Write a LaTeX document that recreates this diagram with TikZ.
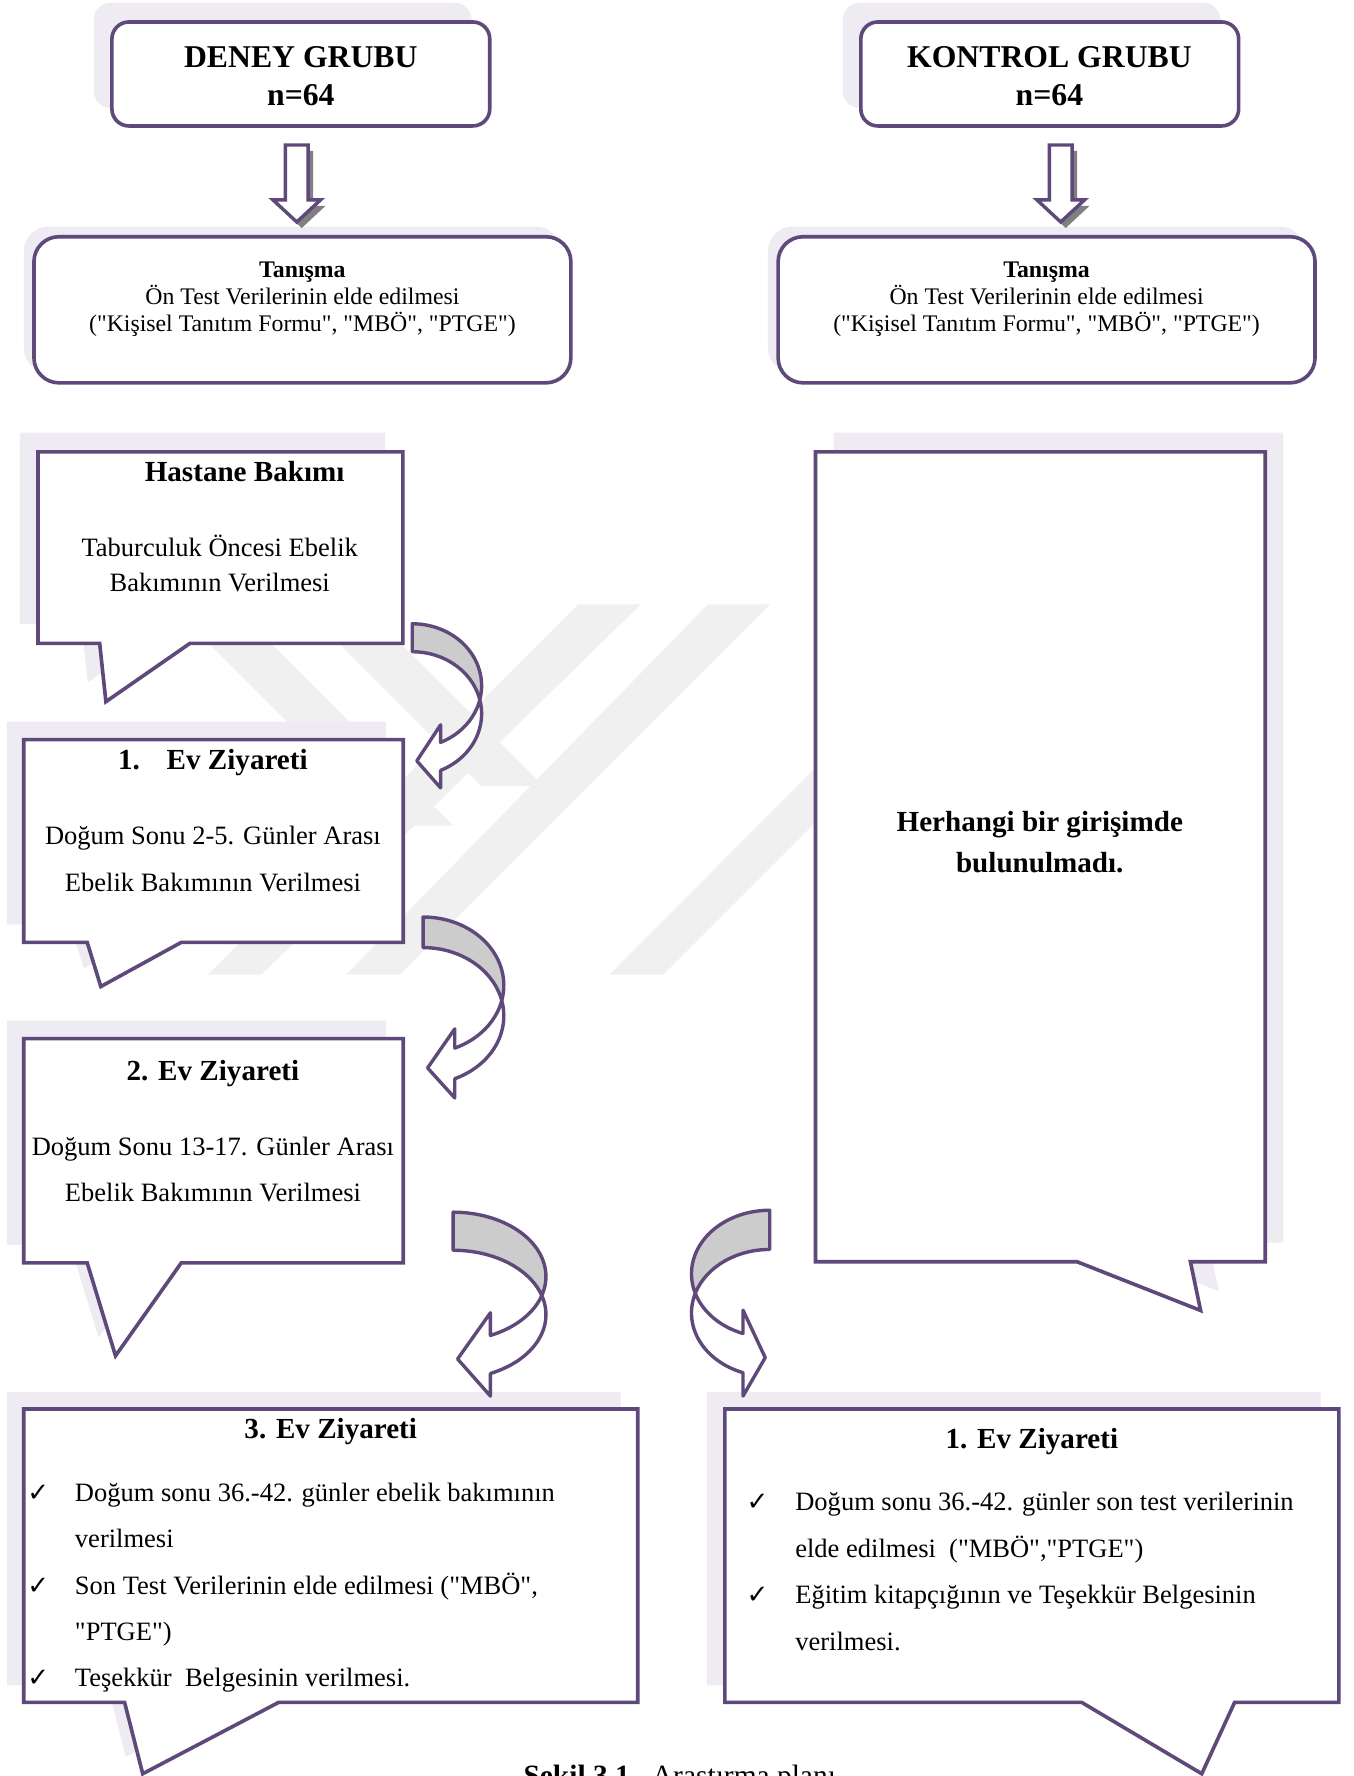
\documentclass[tikz,border=0pt]{standalone}
\usepackage{fontspec}
\setmainfont{Liberation Serif}[Ligatures=TeXOff]
\newfontfamily\symfont{DejaVu Sans}
\definecolor{pborder}{HTML}{5F497A}
\definecolor{shadowc}{HTML}{EEEBF3}
\definecolor{wmark}{HTML}{F0F0F0}
\definecolor{arrgray}{HTML}{CCCCCC}
\definecolor{dshadow}{HTML}{808080}
\tikzset{
  outline/.style={draw=pborder, line width=3.2pt, line join=miter, fill=white},
  shadebox/.style={fill=shadowc, draw=none},
  arrback/.style={draw=pborder, line width=3pt, line join=round, fill=arrgray},
  arrfront/.style={draw=pborder, line width=3pt, line join=round, fill=white},
  toptitle/.style={anchor=base, inner sep=0pt, font=\fontsize{28}{32}\selectfont\bfseries},
  smalltxt/.style={anchor=base, inner sep=0pt, font=\fontsize{21}{24}\selectfont},
  smallbold/.style={anchor=base, inner sep=0pt, font=\fontsize{21}{24}\selectfont\bfseries},
  ctitle/.style={anchor=base, inner sep=0pt, font=\fontsize{25.7}{30}\selectfont\bfseries},
  body/.style={anchor=base, inner sep=0pt, font=\fontsize{23.4}{28}\selectfont},
  bodyw/.style={anchor=base west, inner sep=0pt, font=\fontsize{23.4}{28}\selectfont},
  checkm/.style={anchor=base west, inner sep=0pt, font=\fontsize{23}{26}\symfont},
}
\newcommand{\callout}[9]{\path[#1] (#2,#3) -- (#4,#3) -- (#4,#5) -- (#9,#5) -- (#7,#8) -- (#6,#5) -- (#2,#5) -- cycle;}
\newcommand{\blockdown}[2]{\path[#2] (#1-10,128) -- (#1+10,128) -- (#1+10,176.5) -- (#1+21,176.5) -- (#1,196) -- (#1-21,176.5) -- (#1-10,176.5) -- cycle;}
\newcommand{\curvarrow}[6]{%
\begin{scope}[#1]
\pgfmathsetmacro\CAta{asin(#4/(2*#3))}
\pgfmathsetmacro\CAth{acos(#5/#2)}
\pgfmathsetmacro\CAyA{#3+#3*sin(\CAth)}
\pgfmathsetmacro\CAyB{#4+#3+#3*sin(\CAth)}
\pgfmathsetmacro\CAyt{(\CAyA+\CAyB)/2+4}
\filldraw[arrback] plot[domain=-90:\CAta, samples=40, variable=\t] ({#2*cos(\t)},{#3+#3*sin(\t)}) -- plot[domain=-\CAta:-90, samples=40, variable=\t] ({#2*cos(\t)},{#4+#3+#3*sin(\t)}) -- cycle;
\filldraw[arrfront] plot[domain=\CAta:\CAth, samples=40, variable=\t] ({#2*cos(\t)},{#3+#3*sin(\t)}) -- (#5,\CAyA-#6) -- (4,\CAyt) -- (#5,\CAyB+#6) -- (#5,\CAyB) -- plot[domain=\CAth:-\CAta, samples=40, variable=\t] ({#2*cos(\t)},{#4+#3+#3*sin(\t)}) -- cycle;
\end{scope}}
\begin{document}
\begin{tikzpicture}[x=1pt,y=-1pt]
\useasboundingbox (0,0) rectangle (1195,1568);
\fill[white] (0,0) rectangle (1195,1568);
% watermark
\fill[wmark] (183.6,860.5) -- (230.9,860.5) -- (565.7,533.6) -- (510.6,533.6) -- cycle;
\fill[wmark] (305.7,860.5) -- (353,860.5) -- (680,533.6) -- (625,533.6) -- cycle;
\fill[wmark] (538,860.5) -- (585.5,860.5) -- (725,721) -- (725,673) -- cycle;
\fill[wmark] (150,534) -- (205,534) -- (400,729) -- (345,729) -- cycle;
\fill[wmark] (265,534) -- (320,534) -- (480,694) -- (425,694) -- cycle;
% shadows
\fill[shadowc, rounded corners=15pt] (82.8,2.4) rectangle (416.4,95.2);
\fill[shadowc, rounded corners=15pt] (744,2.4) rectangle (1077.5,95.2);
\fill[shadowc, rounded corners=22pt] (21,200) rectangle (495,329);
\fill[shadowc, rounded corners=22pt] (678,200) rectangle (1152,329);
\callout{shadebox, shift={(-16,-17)}}{33.5}{399}{355.7}{568}{88}{93.5}{619.5}{167.7}
\callout{shadebox, shift={(-15,-16)}}{21}{653}{356}{832}{77}{89}{871}{160}
\callout{shadebox, shift={(-15,-16)}}{21}{917}{356}{1115}{77}{102}{1197}{160}
\callout{shadebox, shift={(-15,-15)}}{21}{1244}{563}{1503}{110}{126}{1566}{246}
\callout{shadebox, shift={(-16,-15)}}{640}{1244}{1182}{1503}{955}{1061}{1566}{1090}
\callout{shadebox, shift={(16,-17)}}{720}{399}{1117}{1114}{951}{1060}{1157}{1051}
% top boxes
\node[outline, rounded corners=15pt, minimum width=333.6pt, minimum height=91.8pt] (deney) at (265.6,65.3) {};
\node[outline, rounded corners=15pt, minimum width=333.6pt, minimum height=91.8pt] (kontrol) at (926.8,65.3) {};
\node[toptitle] (deneyt) at (265.6,60) {DENEY GRUBU};
\node[toptitle] (deneyn) at (265.6,93) {n=64};
\node[toptitle] (kontrolt) at (926.5,60) {KONTROL GRUBU};
\node[toptitle] (kontroln) at (926.5,93) {n=64};
% down arrows
\blockdown{262}{fill=dshadow, shift={(4.4,5.3)}}
\blockdown{262}{draw=pborder, line width=3pt, fill=white, line join=miter}
\blockdown{936.5}{fill=dshadow, shift={(4.4,5.3)}}
\blockdown{936.5}{draw=pborder, line width=3pt, fill=white, line join=miter}
% Tanisma boxes
\node[outline, rounded corners=22pt, minimum width=474pt, minimum height=129pt] (tanL) at (267,273.5) {};
\node[outline, rounded corners=22pt, minimum width=474pt, minimum height=129pt] (tanR) at (924,273.5) {};
\node[smallbold] (tanL1) at (267,245) {Tanışma};
\node[smalltxt] (tanL2) at (267,268.5) {Ön Test Verilerinin elde edilmesi};
\node[smalltxt] (tanL3) at (267,293) {("Kişisel Tanıtım Formu", "MBÖ", "PTGE")};
\node[smallbold] (tanR1) at (924,245) {Tanışma};
\node[smalltxt] (tanR2) at (924,268.5) {Ön Test Verilerinin elde edilmesi};
\node[smalltxt] (tanR3) at (924,293) {("Kişisel Tanıtım Formu", "MBÖ", "PTGE")};
% callouts
\callout{outline}{33.5}{399}{355.7}{568}{88}{93.5}{619.5}{167.7}
\callout{outline}{21}{653}{356}{832}{77}{89}{871}{160}
\callout{outline}{21}{917}{356}{1115}{77}{102}{1197}{160}
\callout{outline}{21}{1244}{563}{1503}{110}{126}{1566}{246}
\callout{outline}{640}{1244}{1182}{1503}{955}{1061}{1566}{1090}
\callout{outline}{720}{399}{1117}{1114}{951}{1060}{1157}{1051}
% Hastane
\node[ctitle] (hastT) at (216,425) {Hastane Bakımı};
\node[body] (hast1) at (194,491) {Taburculuk Öncesi Ebelik};
\node[body] (hast2) at (194,522) {Bakımının Verilmesi};
% 1. Ev
\node[ctitle, anchor=base west] (ev1T) at (104,679) {1.\hspace{23.7pt}Ev Ziyareti};
\node[body] (ev11) at (188,746) {Doğum Sonu 2-5. Günler Arası};
\node[body] (ev12) at (188,787) {Ebelik Bakımının Verilmesi};
% 2. Ev
\node[ctitle] (ev2T) at (188,954) {2. Ev Ziyareti};
\node[body] (ev21) at (188,1020) {Doğum Sonu 13-17. Günler Arası};
\node[body] (ev22) at (188,1061) {Ebelik Bakımının Verilmesi};
% Herhangi
\node[ctitle] (noneA) at (918,734) {Herhangi bir girişimde};
\node[ctitle] (noneB) at (918,770) {bulunulmadı.};
% 3. Ev
\node[ctitle] (ev3T) at (292,1270) {3. Ev Ziyareti};
\node[checkm] (c31) at (24,1326) {✓};
\node[bodyw] (e31) at (66,1326) {Doğum sonu 36.-42. günler ebelik bakımının};
\node[bodyw] (e32) at (66,1366) {verilmesi};
\node[checkm] (c33) at (24,1408) {✓};
\node[bodyw] (e33) at (66,1408) {Son Test Verilerinin elde edilmesi ("MBÖ",};
\node[bodyw] (e34) at (66,1448) {"PTGE")};
\node[checkm] (c35) at (24,1489) {✓};
\node[bodyw] (e35) at (66,1489) {Teşekkür\ \ Belgesinin verilmesi.};
% right 1. Ev
\node[ctitle] (k1T) at (911,1279) {1. Ev Ziyareti};
\node[checkm] (k1c1) at (659,1334) {✓};
\node[bodyw] (k11) at (702,1334) {Doğum sonu 36.-42. günler son test verilerinin};
\node[bodyw] (k12) at (702,1375) {elde edilmesi\ \ ("MBÖ","PTGE")};
\node[checkm] (k1c3) at (659,1416) {✓};
\node[bodyw] (k13) at (702,1416) {Eğitim kitapçığının ve Teşekkür Belgesinin};
\node[bodyw] (k14) at (702,1457) {verilmesi.};
% curved arrows
\curvarrow{shift={(364,550.7)}}{61.2}{54.75}{24.7}{25}{15.5}
\curvarrow{shift={(373.5,809.6)}}{71.3}{60.3}{27}{28}{17}
\curvarrow{shift={(400,1070.2)}}{82}{56.8}{33.6}{33}{20}
\curvarrow{shift={(679.6,1068.5)}, xscale=-1}{69.1}{56.1}{34.6}{23.6}{20.6}
% caption (cut off at bottom, as in the reference)
\node[anchor=base west, inner sep=0pt, font=\fontsize{26}{30}\selectfont] (cap) at (462,1576) {\textbf{Şekil 3.1.}\ \ Araştırma planı};
\end{tikzpicture}
\end{document}
